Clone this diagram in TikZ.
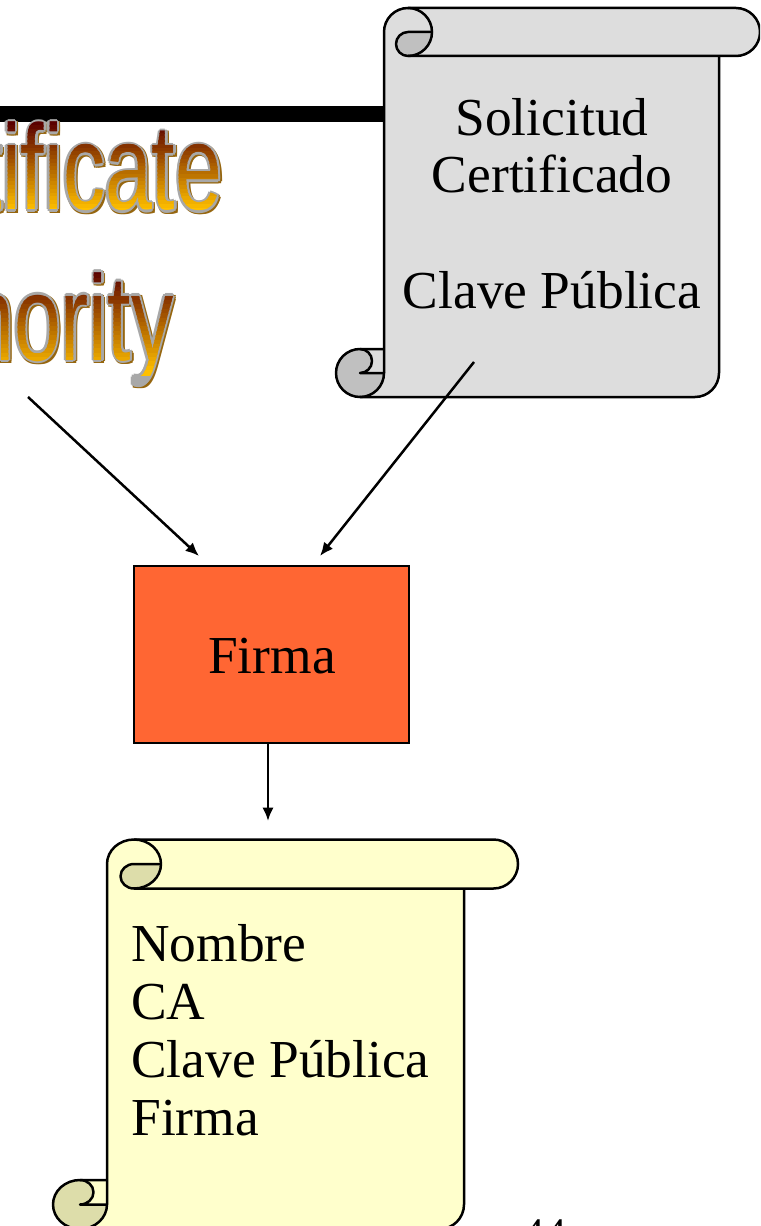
\documentclass[tikz,border=0pt]{standalone}
\usepackage{fontspec}
\usetikzlibrary{arrows.meta}
\setmainfont{Liberation Serif}
\newfontfamily\wordfont{Liberation Sans}
\definecolor{scrollgray}{HTML}{DDDDDD}
\definecolor{curlgray}{HTML}{C0C0C0}
\definecolor{scrollyellow}{HTML}{FFFFCC}
\definecolor{curlyellow}{HTML}{DDDDAA}
\definecolor{firmared}{HTML}{FF6633}
\definecolor{wordtop}{HTML}{5A0000}
\definecolor{wordlow}{HTML}{FFC000}
\definecolor{wordedge}{HTML}{A8A8A8}
\definecolor{wordshadow}{HTML}{96660F}
\tikzset{
  scrollline/.style={draw=black,line width=0.05cm,line join=round},
  body/.style={font=\fontsize{30.4}{32.9}\selectfont,inner sep=0pt},
  bodyleft/.style={body,align=left,anchor=base west},
  bodymid/.style={body,align=center,anchor=base},
  flow/.style={-{Latex[length=0.27cm,width=0.23cm]},line width=0.05cm},
  wordart/.style={font=\wordfont\fontsize{69}{69}\selectfont,inner sep=0pt,anchor=base east,xscale=0.695,transform shape},
}
% L, R, T, B, end of roll, rx, paper, curl, ry
\newcommand{\drawscroll}[9]{
  \fill[#7] (#1,{#3+#9}) arc (180:270:#6 and #9) -- ({#5-#9},#3) arc (-90:90:#9) -- (#2,{#3+2*#9})
    -- (#2,{#4-#9}) arc (0:90:#9) -- ({#1-#6},#4) arc (90:270:#6 and #9) -- (#1,{#4-2*#9}) -- cycle;
  % dark inside of both curls
  \fill[#8] ({#1+#6},{#3+2*#9}) arc (90:270:#6/2 and #9/2) -- ({#1+2*#6},{#3+#9}) arc (0:90:#6 and #9) -- cycle;
  \fill[#8] ({#1-#6},{#4-#9}) -- (#1,{#4-#9}) arc (0:90:#6 and #9) arc (90:270:#6 and #9) arc (-90:90:#6/2 and #9/2) -- cycle;
  \draw[scrollline] (#1,{#4-#9}) -- (#1,{#3+#9}) arc (180:270:#6 and #9) -- ({#5-#9},#3) arc (-90:90:#9) -- ({#1+#6},{#3+2*#9})
    arc (90:270:#6/2 and #9/2) -- ({#1+2*#6},{#3+#9});
  \draw[scrollline] ({#1+#6},#3) arc (-90:90:#6 and #9);
  \draw[scrollline] (#2,{#3+2*#9}) -- (#2,{#4-#9}) arc (0:90:#9) -- ({#1-#6},#4) arc (90:270:#6 and #9) -- (#1,{#4-2*#9});
  \draw[scrollline] ({#1-#6},{#4-2*#9}) arc (-90:90:#6/2 and #9/2) -- (#1,{#4-#9}) arc (0:90:#6 and #9);
}
% name, text, right end, baseline, top and bottom of the gradient
\newcommand{\drawword}[6]{
  \foreach \a in {0,45,...,315}
    \node[wordart,text=wordshadow] (#1s\a) at ([shift={(\a:2.3)}] {#3+1.4},{#4+1.6}) {#2};
  \foreach \a in {0,45,...,315}
    \node[wordart,text=wordedge] (#1e\a) at ([shift={(\a:2.3)}] #3,#4) {#2};
  \foreach \i in {0,...,23} {
    \pgfmathsetmacro\bandtop{#5+(#6-#5)*\i/24}
    \pgfmathsetmacro\bandend{#5+(#6-#5)*(\i+1.2)/24}
    \pgfmathsetmacro\bandmix{100*\i/23}
    \begin{scope}
      \clip (0,\bandtop) rectangle (760,\bandend);
      \node[wordart,text=wordlow!\bandmix!wordtop] (#1b\i) at (#3,#4) {#2};
    \end{scope}
  }
}
\begin{document}
\begin{tikzpicture}[x=0.02cm,y=-0.02cm]
  \useasboundingbox (0,0) rectangle (760,1226);
  \clip (0,0) rectangle (760,1226);
  % bar and title
  \coordinate (barleft) at (0,114.5);
  \coordinate (barright) at (386,114.5);
  \draw[line width=0.32cm] (barleft) -- (barright);
  \drawword{certificate}{tificate}{222.5}{210}{122}{212}
  \drawword{authority}{hority}{173.5}{360}{270}{375}
  % scrolls
  \drawscroll{384}{719}{8}{397}{760}{24}{scrollgray}{curlgray}{24}
  \drawscroll{107}{464}{839.5}{1229}{518}{27}{scrollyellow}{curlyellow}{24.5}
  \node[bodymid] (solicitud) at (552,193) {Solicitud\\Certificado};
  \node[bodymid] (clave) at (552,309) {Clave Pública};
  \node[bodyleft] (nombre) at (131,961) {Nombre};
  \node[bodyleft] (ca) at (131,1019) {CA};
  \node[bodyleft] (clavepub) at (131,1077) {Clave Pública};
  \node[bodyleft] (firmatext) at (131,1135) {Firma};
  % box
  \node[draw,fill=firmared,line width=0.05cm,minimum width=5.5cm,minimum height=3.54cm,inner sep=0pt] (firma) at (271.5,654.5) {};
  \node[bodymid] (firmalabel) at (272,673) {Firma};
  \node[body,font=\fontsize{24}{28}\selectfont,anchor=base] (page) at (545,1247) {44};
  % arrows
  \coordinate (authtail) at (28,397);
  \coordinate (authhead) at (199,556);
  \coordinate (soltail) at (474,362);
  \coordinate (solhead) at (320,556);
  \coordinate (firmatail) at (268,743);
  \coordinate (firmahead) at (268,821);
  \draw[flow] (authtail) -- (authhead);
  \draw[flow] (soltail) -- (solhead);
  \draw[flow] (firmatail) -- (firmahead);
\end{tikzpicture}
\end{document}
